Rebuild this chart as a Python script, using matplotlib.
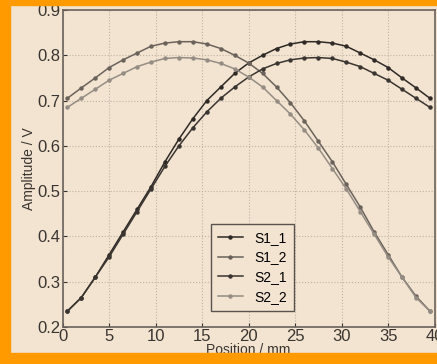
import numpy as np
import matplotlib
matplotlib.use("Agg")
import matplotlib.pyplot as plt
from matplotlib.patches import Rectangle

plt.rcParams['font.family'] = ['Liberation Sans', 'DejaVu Sans']

# positions along the sensor (mm)
position = [0.5, 2, 3.5, 5, 6.5, 8, 9.5, 11, 12.5, 14, 15.5, 17, 18.5, 20,
            21.5, 23, 24.5, 26, 27.5, 29, 30.5, 32, 33.5, 35, 36.5, 38, 39.5]

s1_1 = [0.235, 0.265, 0.31, 0.36, 0.41, 0.46, 0.51, 0.565, 0.615, 0.66,
        0.70, 0.73, 0.76, 0.783, 0.80, 0.815, 0.825, 0.83, 0.83, 0.827,
        0.82, 0.805, 0.79, 0.773, 0.75, 0.728, 0.705]
s1_2 = [0.705, 0.728, 0.75, 0.773, 0.79, 0.805, 0.82, 0.827, 0.83, 0.83,
        0.825, 0.815, 0.80, 0.783, 0.76, 0.73, 0.695, 0.655, 0.61, 0.565,
        0.515, 0.465, 0.41, 0.36, 0.31, 0.268, 0.235]
s2_1 = [0.235, 0.265, 0.31, 0.355, 0.405, 0.455, 0.505, 0.555, 0.60, 0.64,
        0.675, 0.705, 0.73, 0.752, 0.77, 0.782, 0.79, 0.794, 0.795, 0.793,
        0.785, 0.775, 0.76, 0.745, 0.725, 0.705, 0.685]
s2_2 = [0.685, 0.705, 0.725, 0.745, 0.76, 0.775, 0.785, 0.793, 0.795, 0.794,
        0.79, 0.782, 0.77, 0.752, 0.73, 0.70, 0.67, 0.635, 0.595, 0.55,
        0.505, 0.455, 0.405, 0.355, 0.31, 0.265, 0.235]

labels = ['S1_1', 'S1_2', 'S2_1', 'S2_2']
colors = ['#2f2a26', '#6b635b', '#3a3530', '#958d84']

bg = '#f3e4d1'
orange = '#ff9a00'

fig = plt.figure(figsize=(4.37, 3.64), dpi=100, facecolor=bg)
ax = fig.add_axes([0.1435, 0.1016, 0.851, 0.8709], facecolor=bg)

for y, lab, c in zip([s1_1, s1_2, s2_1, s2_2], labels, colors):
    ax.plot(position, y, color=c, lw=1.1, marker='o', ms=2.2, label=lab)

ax.set_xlim(0, 40)
ax.set_ylim(0.2, 0.9)
ax.set_xticks(np.arange(0, 41, 5))
ax.set_yticks(np.arange(0.2, 0.91, 0.1))
ax.set_yticklabels(['0.2', '0.3', '0.4', '0.5', '0.6', '0.7', '0.8', '0.9'])
ax.tick_params(direction='in', labelsize=12, colors='#3a3530', pad=1.5, length=3)
ax.grid(True, linestyle=':', color='#bfb3a6', lw=0.8)
for sp in ax.spines.values():
    sp.set_color('#6a625c')
    sp.set_linewidth(1.2)

ax.set_xlabel('Position / mm', fontsize=10, color='#3a3530', labelpad=-1)
ax.set_ylabel('Amplitude / V', fontsize=10, color='#3a3530', labelpad=1)

leg = ax.legend(loc='lower left', bbox_to_anchor=(0.38, 0.03), fontsize=10,
                handlelength=1.8, fancybox=False, framealpha=1,
                facecolor=bg, edgecolor='#5a534d', borderpad=0.5,
                labelspacing=0.4)
leg.get_frame().set_linewidth(1.0)

# orange frame around the picture
for r in [(0, 0, 10 / 437, 1), (0, 0, 1, 11 / 364), (0, 1 - 5 / 364, 1, 5 / 364)]:
    fig.patches.append(Rectangle(r[:2], r[2], r[3], transform=fig.transFigure,
                                 color=orange, zorder=10))

fig.savefig('out.png', dpi=100, facecolor=bg)
